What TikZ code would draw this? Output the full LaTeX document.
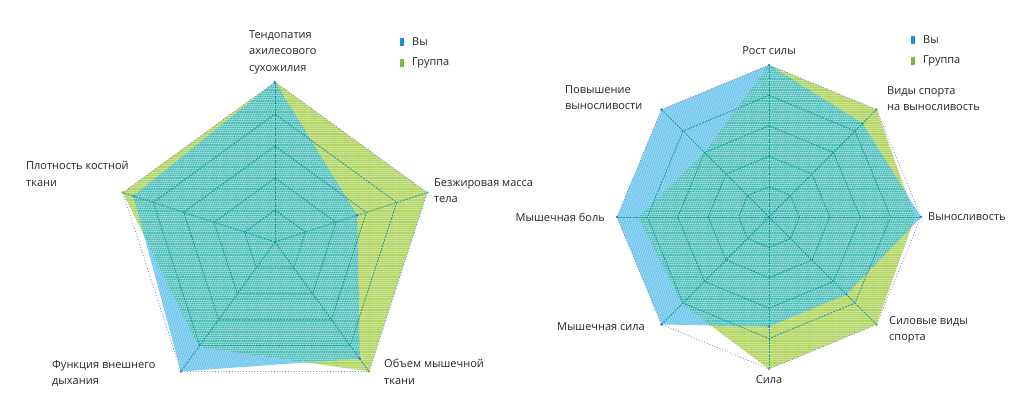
\documentclass[tikz,border=0pt]{standalone}
\usepackage{fontspec}
\setmainfont{Open Sans}
\usetikzlibrary{patterns.meta}
\definecolor{bluef}{HTML}{72C8EE}
\definecolor{greenf}{HTML}{B2D563}
\definecolor{tealf}{HTML}{43BBB6}
\definecolor{gridc}{HTML}{14999F}
\definecolor{framec}{HTML}{7F78C8}
\definecolor{txt}{HTML}{262626}
\definecolor{legblue}{HTML}{1C8FD0}
\definecolor{leggreen}{HTML}{6DBE45}
\tikzset{
  lbl/.style={font=\fontsize{11}{16.5}\selectfont, text=txt, inner sep=0pt, align=left},
  ringline/.style={draw=gridc, dash pattern=on 2pt off 1.2pt, line width=0.75pt},
  framel/.style={draw=framec, dotted, line width=0.8pt},
  hatchg/.style={pattern={Lines[angle=0,distance=2.2pt,line width=0.6pt]}, pattern color=white, opacity=0.35},
  hatchb/.style={pattern={Lines[angle=70,distance=2.2pt,line width=0.6pt]}, pattern color=white, opacity=0.35},
  legmark/.style={inner sep=0pt, minimum width=4pt, minimum height=8pt},
}
\begin{document}
\begin{tikzpicture}[x=1pt,y=-1pt]
\useasboundingbox (0,0) rectangle (1010,410);
\fill[white] (0,0) rectangle (1010,410);
% ---------- left chart ----------
\begin{scope}[shift={(275,242)}, y=1pt]
  \def\lblue{(90:160) -- (18:86.4) -- (-54:144) -- (-126:160) -- (162:148.8) -- cycle}
  \def\lgreen{(90:160) -- (18:160) -- (-54:160) -- (-126:129.6) -- (162:160) -- cycle}
  \fill[greenf] \lgreen;
  \fill[bluef] \lblue;
  \begin{scope}\clip \lgreen; \fill[tealf] \lblue; \end{scope}
  \fill[hatchg] \lgreen;
  \fill[hatchb] \lblue;
  \coordinate (lc) at (0,0);
  \foreach \a/\n in {90/a,18/b,-54/c,-126/d,162/e}{
    \coordinate (lv\n) at (\a:160);
    \draw[ringline] (lc) -- (lv\n);
  }
  \foreach \f in {32,64,96,128}{
    \draw[ringline] (90:\f) -- (18:\f) -- (-54:\f) -- (-126:\f) -- (162:\f) -- cycle;
  }
  \draw[framel] (lva) -- (lvb) -- (lvc) -- (lvd) -- (lve) -- cycle;
  \foreach \p in {(90:160),(18:86.4),(-54:144),(-126:160),(162:148.8)}
    \fill[legblue] \p circle (1.4);
  \foreach \p in {(18:160),(-54:160),(162:160)}
    \fill[leggreen] \p circle (1.4);
\end{scope}
% ---------- right chart ----------
\begin{scope}[shift={(769,217)}, y=1pt]
  \def\rblue{(90:152) -- (45:132.2) -- (0:152) -- (-45:109.4) -- (-90:109.4) -- (-135:152) -- (180:152) -- (135:152) -- cycle}
  \def\rgreen{(90:152) -- (45:152) -- (0:146) -- (-45:152) -- (-90:152) -- (-135:123.1) -- (180:130.7) -- (135:91.2) -- cycle}
  \fill[greenf] \rgreen;
  \fill[bluef] \rblue;
  \begin{scope}\clip \rgreen; \fill[tealf] \rblue; \end{scope}
  \fill[hatchg] \rgreen;
  \fill[hatchb] \rblue;
  \coordinate (rc) at (0,0);
  \foreach \a/\n in {90/a,45/b,0/c,-45/d,-90/e,-135/f,180/g,135/h}{
    \coordinate (rv\n) at (\a:152);
    \draw[ringline] (rc) -- (rv\n);
  }
  \foreach \f in {30.4,60.8,91.2,121.6}{
    \draw[ringline] (90:\f) -- (45:\f) -- (0:\f) -- (-45:\f) -- (-90:\f) -- (-135:\f) -- (180:\f) -- (135:\f) -- cycle;
  }
  \draw[framel] (rva) -- (rvb) -- (rvc) -- (rvd) -- (rve) -- (rvf) -- (rvg) -- (rvh) -- cycle;
  \foreach \p in {(90:152),(45:132.2),(0:152),(-45:109.4),(-90:109.4),(-135:152),(180:152),(135:152)}
    \fill[legblue] \p circle (1.4);
  \foreach \p in {(45:152),(-45:152),(-90:152)}
    \fill[leggreen] \p circle (1.4);
\end{scope}
% ---------- labels left ----------
\node[lbl, anchor=north west] (tendo) at (249,30) {Тендопатия\\ахилесового\\сухожилия};
\node[lbl, anchor=north west] (plotn) at (26,161) {Плотность костной\\ткани};
\node[lbl, anchor=north west] (bezh) at (434,178) {Безжировая масса\\тела};
\node[lbl, anchor=north west] (funk) at (52,360) {Функция внешнего\\дыхания};
\node[lbl, anchor=north west] (obem) at (384,359) {Объем мышечной\\ткани};
\node[legmark, fill=legblue] (lm1) at (402,42) {};
\node[legmark, fill=leggreen] (lm2) at (402,63) {};
\node[lbl, anchor=west] (lt1) at (412,42) {Вы};
\node[lbl, anchor=west] (lt2) at (412,63) {Группа};
% ---------- labels right ----------
\node[lbl, anchor=north] (rost) at (769,46) {Рост силы};
\node[lbl, anchor=north west] (povy) at (565,85) {Повышение\\выносливости};
\node[lbl, anchor=north west] (vidy) at (887,86) {Виды спорта\\на выносливость};
\node[lbl, anchor=west] (vyno) at (928,217) {Выносливость};
\node[lbl, anchor=east] (bol) at (605,217) {Мышечная боль};
\node[lbl, anchor=east] (msila) at (645,327) {Мышечная сила};
\node[lbl, anchor=north west] (silov) at (889,316) {Силовые виды\\спорта};
\node[lbl, anchor=north] (sila) at (769,375) {Сила};
\node[legmark, fill=legblue] (rm1) at (913,40) {};
\node[legmark, fill=leggreen] (rm2) at (913,61) {};
\node[lbl, anchor=west] (rt1) at (923,40) {Вы};
\node[lbl, anchor=west] (rt2) at (923,61) {Группа};
\end{tikzpicture}
\end{document}
